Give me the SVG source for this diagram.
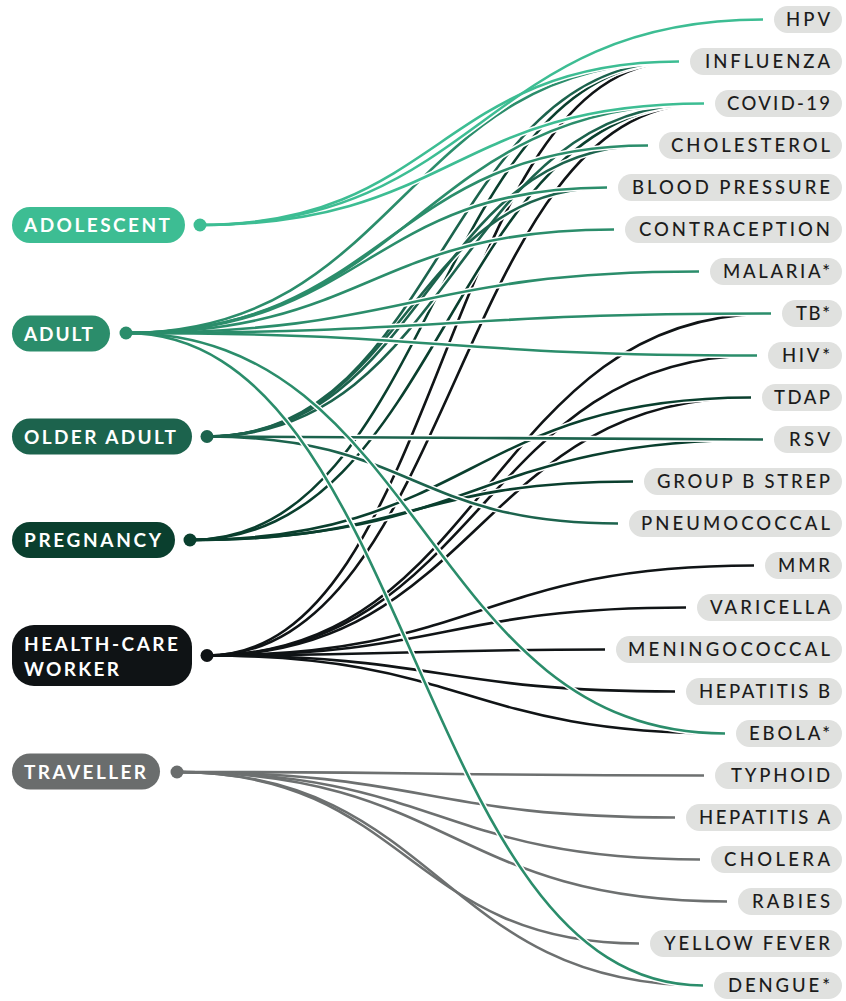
<svg xmlns="http://www.w3.org/2000/svg" width="846" height="1001" viewBox="0 0 846 1001">
<style>
  .halo{fill:none;stroke:#fff;stroke-width:5.6}
  .ln{fill:none;stroke-width:2.6}
  .adol{stroke:#3dbd93}
  .adult{stroke:#2b8d6b}
  .older{stroke:#1c634d}
  .preg{stroke:#0a3f2e}
  .hcw{stroke:#101416}
  .trav{stroke:#6d7070}
  .src text{font-family:Lato,"Noto Sans","DejaVu Sans",sans-serif;font-weight:700;font-size:19px;fill:#fff}
  .tgt rect{fill:#e0e1df}
  .tgt text{font-family:Lato,"Noto Sans","DejaVu Sans",sans-serif;font-weight:500;font-size:18.5px;fill:#1c1c1c}
</style>
<rect width="846" height="1001" fill="#fff"/>
<g id="connectors">
  <g id="c-traveller">
    <g class="halo">
      <path d="M177,772 C440.5,772 440.5,775.5 704,775.5"/>
      <path d="M177,772 C426,772 426,817.5 675,817.5"/>
      <path d="M177,772 C438.5,772 438.5,859.5 700,859.5"/>
      <path d="M177,772 C452,772 452,901.5 727,901.5"/>
      <path d="M177,772 C408,772 408,943.5 639,943.5"/>
      <path d="M177,772 C440,772 440,985.5 703,985.5"/>
    </g>
    <g class="ln trav">
      <path d="M177,772 C440.5,772 440.5,775.5 704,775.5"/>
      <path d="M177,772 C426,772 426,817.5 675,817.5"/>
      <path d="M177,772 C438.5,772 438.5,859.5 700,859.5"/>
      <path d="M177,772 C452,772 452,901.5 727,901.5"/>
      <path d="M177,772 C408,772 408,943.5 639,943.5"/>
      <path d="M177,772 C440,772 440,985.5 703,985.5"/>
    </g>
  </g>
  <g id="c-hcw">
    <g class="halo">
      <path d="M207,655.5 C443,655.5 443,61.5 679,61.5"/>
      <path d="M207,655.5 C455.5,655.5 455.5,103.5 704,103.5"/>
      <path d="M207,655.5 C489,655.5 489,313.5 771,313.5"/>
      <path d="M207,655.5 C482,655.5 482,355.5 757,355.5"/>
      <path d="M207,655.5 C479,655.5 479,397.5 751,397.5"/>
      <path d="M207,655.5 C480.5,655.5 480.5,565.5 754,565.5"/>
      <path d="M207,655.5 C446.5,655.5 446.5,607.5 686,607.5"/>
      <path d="M207,655.5 C406,655.5 406,649.5 605,649.5"/>
      <path d="M207,655.5 C441,655.5 441,691.5 675,691.5"/>
      <path d="M207,655.5 C466,655.5 466,733.5 725,733.5"/>
    </g>
    <g class="ln hcw">
      <path d="M207,655.5 C443,655.5 443,61.5 679,61.5"/>
      <path d="M207,655.5 C455.5,655.5 455.5,103.5 704,103.5"/>
      <path d="M207,655.5 C489,655.5 489,313.5 771,313.5"/>
      <path d="M207,655.5 C482,655.5 482,355.5 757,355.5"/>
      <path d="M207,655.5 C479,655.5 479,397.5 751,397.5"/>
      <path d="M207,655.5 C480.5,655.5 480.5,565.5 754,565.5"/>
      <path d="M207,655.5 C446.5,655.5 446.5,607.5 686,607.5"/>
      <path d="M207,655.5 C406,655.5 406,649.5 605,649.5"/>
      <path d="M207,655.5 C441,655.5 441,691.5 675,691.5"/>
      <path d="M207,655.5 C466,655.5 466,733.5 725,733.5"/>
    </g>
  </g>
  <g id="c-pregnancy">
    <g class="halo">
      <path d="M190,540 C434.5,540 434.5,61.5 679,61.5"/>
      <path d="M190,540 C447,540 447,103.5 704,103.5"/>
      <path d="M190,540 C470.5,540 470.5,397.5 751,397.5"/>
      <path d="M190,540 C476.5,540 476.5,439.5 763,439.5"/>
      <path d="M190,540 C411.5,540 411.5,481.5 633,481.5"/>
    </g>
    <g class="ln preg">
      <path d="M190,540 C434.5,540 434.5,61.5 679,61.5"/>
      <path d="M190,540 C447,540 447,103.5 704,103.5"/>
      <path d="M190,540 C470.5,540 470.5,397.5 751,397.5"/>
      <path d="M190,540 C476.5,540 476.5,439.5 763,439.5"/>
      <path d="M190,540 C411.5,540 411.5,481.5 633,481.5"/>
    </g>
  </g>
  <g id="c-older">
    <g class="halo">
      <path d="M207,436.5 C443,436.5 443,61.5 679,61.5"/>
      <path d="M207,436.5 C455.5,436.5 455.5,103.5 704,103.5"/>
      <path d="M207,436.5 C427.5,436.5 427.5,145.5 648,145.5"/>
      <path d="M207,436.5 C407,436.5 407,187.5 607,187.5"/>
      <path d="M207,436.5 C485,436.5 485,439.5 763,439.5"/>
      <path d="M207,436.5 C412.5,436.5 412.5,523.5 618,523.5"/>
    </g>
    <g class="ln older">
      <path d="M207,436.5 C443,436.5 443,61.5 679,61.5"/>
      <path d="M207,436.5 C455.5,436.5 455.5,103.5 704,103.5"/>
      <path d="M207,436.5 C427.5,436.5 427.5,145.5 648,145.5"/>
      <path d="M207,436.5 C407,436.5 407,187.5 607,187.5"/>
      <path d="M207,436.5 C485,436.5 485,439.5 763,439.5"/>
      <path d="M207,436.5 C412.5,436.5 412.5,523.5 618,523.5"/>
    </g>
  </g>
  <g id="c-adult">
    <g class="halo">
      <path d="M126,333 C402.5,333 402.5,61.5 679,61.5"/>
      <path d="M126,333 C415,333 415,103.5 704,103.5"/>
      <path d="M126,333 C387,333 387,145.5 648,145.5"/>
      <path d="M126,333 C366.5,333 366.5,187.5 607,187.5"/>
      <path d="M126,333 C370,333 370,229.5 614,229.5"/>
      <path d="M126,333 C412.5,333 412.5,271.5 699,271.5"/>
      <path d="M126,333 C448.5,333 448.5,313.5 771,313.5"/>
      <path d="M126,333 C441.5,333 441.5,355.5 757,355.5"/>
      <path d="M126,333 C425.5,333 425.5,733.5 725,733.5"/>
      <path d="M126,333 C414.5,333 414.5,985.5 703,985.5"/>
    </g>
    <g class="ln adult">
      <path d="M126,333 C402.5,333 402.5,61.5 679,61.5"/>
      <path d="M126,333 C415,333 415,103.5 704,103.5"/>
      <path d="M126,333 C387,333 387,145.5 648,145.5"/>
      <path d="M126,333 C366.5,333 366.5,187.5 607,187.5"/>
      <path d="M126,333 C370,333 370,229.5 614,229.5"/>
      <path d="M126,333 C412.5,333 412.5,271.5 699,271.5"/>
      <path d="M126,333 C448.5,333 448.5,313.5 771,313.5"/>
      <path d="M126,333 C441.5,333 441.5,355.5 757,355.5"/>
      <path d="M126,333 C425.5,333 425.5,733.5 725,733.5"/>
      <path d="M126,333 C414.5,333 414.5,985.5 703,985.5"/>
    </g>
  </g>
  <g id="c-adolescent">
    <g class="halo">
      <path d="M200,225 C481.5,225 481.5,19.5 763,19.5"/>
      <path d="M200,225 C439.5,225 439.5,61.5 679,61.5"/>
      <path d="M200,225 C452,225 452,103.5 704,103.5"/>
    </g>
    <g class="ln adol">
      <path d="M200,225 C481.5,225 481.5,19.5 763,19.5"/>
      <path d="M200,225 C439.5,225 439.5,61.5 679,61.5"/>
      <path d="M200,225 C452,225 452,103.5 704,103.5"/>
    </g>
  </g>
</g>
<g id="sources" class="src">
  <g id="n-adolescent">
    <rect x="12" y="207" width="173" height="36" rx="18" fill="#3dbd93"/>
    <circle cx="200" cy="225" r="6.5" fill="#3dbd93"/>
    <text x="24" y="232" textLength="146" lengthAdjust="spacing">ADOLESCENT</text>
  </g>
  <g id="n-adult">
    <rect x="12" y="315.5" width="98" height="36" rx="18" fill="#2b8d6b"/>
    <circle cx="126" cy="333" r="6.5" fill="#2b8d6b"/>
    <text x="24" y="340.5" textLength="69" lengthAdjust="spacing">ADULT</text>
  </g>
  <g id="n-older-adult">
    <rect x="12" y="418.5" width="180" height="36" rx="18" fill="#1c634d"/>
    <circle cx="207" cy="436.5" r="6.5" fill="#1c634d"/>
    <text x="24" y="443.5" textLength="152" lengthAdjust="spacing">OLDER ADULT</text>
  </g>
  <g id="n-pregnancy">
    <rect x="12" y="522" width="163" height="36" rx="18" fill="#0a3f2e"/>
    <circle cx="190" cy="540" r="6.5" fill="#0a3f2e"/>
    <text x="24" y="547" textLength="137" lengthAdjust="spacing">PREGNANCY</text>
  </g>
  <g id="n-health-care-worker">
    <rect x="12" y="625" width="180" height="61" rx="22" fill="#0f1315"/>
    <circle cx="207" cy="655.5" r="6.5" fill="#0f1315"/>
    <text x="24" y="651" textLength="154" lengthAdjust="spacing">HEALTH-CARE</text>
    <text x="24" y="676" textLength="95" lengthAdjust="spacing">WORKER</text>
  </g>
  <g id="n-traveller">
    <rect x="12" y="753.5" width="148" height="36" rx="18" fill="#6a6d6d"/>
    <circle cx="177" cy="772" r="6.5" fill="#6a6d6d"/>
    <text x="24" y="779" textLength="122" lengthAdjust="spacing">TRAVELLER</text>
  </g>
</g>
<g id="targets" class="tgt">
  <g id="t-hpv"><rect x="774" y="6" width="68" height="27" rx="13.5"/><text x="786" y="26" textLength="44" lengthAdjust="spacing">HPV</text></g>
  <g id="t-influenza"><rect x="690" y="48" width="152" height="27" rx="13.5"/><text x="705" y="68" textLength="125" lengthAdjust="spacing">INFLUENZA</text></g>
  <g id="t-covid"><rect x="715" y="90" width="127" height="27" rx="13.5"/><text x="727" y="110" textLength="103" lengthAdjust="spacing">COVID-19</text></g>
  <g id="t-cholesterol"><rect x="659" y="132" width="183" height="27" rx="13.5"/><text x="671" y="152" textLength="159" lengthAdjust="spacing">CHOLESTEROL</text></g>
  <g id="t-blood-pressure"><rect x="618" y="174" width="224" height="27" rx="13.5"/><text x="632" y="194" textLength="198" lengthAdjust="spacing">BLOOD PRESSURE</text></g>
  <g id="t-contraception"><rect x="625" y="216" width="217" height="27" rx="13.5"/><text x="639" y="236" textLength="191" lengthAdjust="spacing">CONTRACEPTION</text></g>
  <g id="t-malaria"><rect x="710" y="258" width="132" height="27" rx="13.5"/><text x="723" y="278" textLength="107" lengthAdjust="spacing">MALARIA*</text></g>
  <g id="t-tb"><rect x="782" y="300" width="60" height="27" rx="13.5"/><text x="796" y="320" textLength="34" lengthAdjust="spacing">TB*</text></g>
  <g id="t-hiv"><rect x="768" y="342" width="74" height="27" rx="13.5"/><text x="782" y="362" textLength="48" lengthAdjust="spacing">HIV*</text></g>
  <g id="t-tdap"><rect x="762" y="384" width="80" height="27" rx="13.5"/><text x="774" y="404" textLength="56" lengthAdjust="spacing">TDAP</text></g>
  <g id="t-rsv"><rect x="774" y="426" width="68" height="27" rx="13.5"/><text x="789" y="446" textLength="41" lengthAdjust="spacing">RSV</text></g>
  <g id="t-group-b-strep"><rect x="644" y="468" width="198" height="27" rx="13.5"/><text x="657" y="488" textLength="173" lengthAdjust="spacing">GROUP B STREP</text></g>
  <g id="t-pneumococcal"><rect x="629" y="510" width="213" height="27" rx="13.5"/><text x="641" y="530" textLength="189" lengthAdjust="spacing">PNEUMOCOCCAL</text></g>
  <g id="t-mmr"><rect x="765" y="552" width="77" height="27" rx="13.5"/><text x="778" y="572" textLength="52" lengthAdjust="spacing">MMR</text></g>
  <g id="t-varicella"><rect x="697" y="594" width="145" height="27" rx="13.5"/><text x="710" y="614" textLength="120" lengthAdjust="spacing">VARICELLA</text></g>
  <g id="t-meningococcal"><rect x="616" y="636" width="226" height="27" rx="13.5"/><text x="628" y="656" textLength="202" lengthAdjust="spacing">MENINGOCOCCAL</text></g>
  <g id="t-hepatitis-b"><rect x="686" y="678" width="156" height="27" rx="13.5"/><text x="699" y="698" textLength="131" lengthAdjust="spacing">HEPATITIS B</text></g>
  <g id="t-ebola"><rect x="736" y="720" width="106" height="27" rx="13.5"/><text x="749" y="740" textLength="81" lengthAdjust="spacing">EBOLA*</text></g>
  <g id="t-typhoid"><rect x="715" y="762" width="127" height="27" rx="13.5"/><text x="731" y="782" textLength="99" lengthAdjust="spacing">TYPHOID</text></g>
  <g id="t-hepatitis-a"><rect x="686" y="804" width="156" height="27" rx="13.5"/><text x="699" y="824" textLength="131" lengthAdjust="spacing">HEPATITIS A</text></g>
  <g id="t-cholera"><rect x="711" y="846" width="131" height="27" rx="13.5"/><text x="724" y="866" textLength="106" lengthAdjust="spacing">CHOLERA</text></g>
  <g id="t-rabies"><rect x="738" y="888" width="104" height="27" rx="13.5"/><text x="752" y="908" textLength="78" lengthAdjust="spacing">RABIES</text></g>
  <g id="t-yellow-fever"><rect x="650" y="930" width="192" height="27" rx="13.5"/><text x="664" y="950" textLength="166" lengthAdjust="spacing">YELLOW FEVER</text></g>
  <g id="t-dengue"><rect x="714" y="972" width="128" height="27" rx="13.5"/><text x="728" y="992" textLength="102" lengthAdjust="spacing">DENGUE*</text></g>
</g>
</svg>
